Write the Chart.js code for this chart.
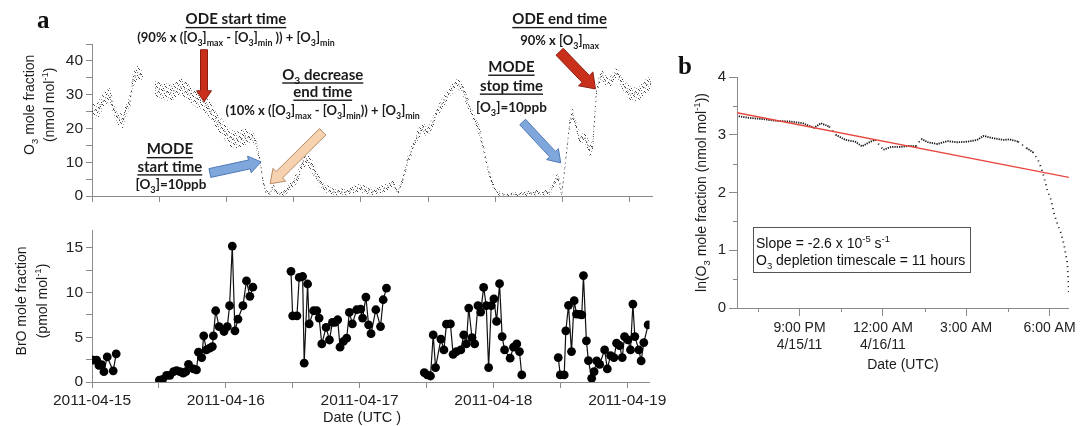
<!DOCTYPE html>
<html>
<head>
<meta charset="utf-8">
<script src="https://cdn.jsdelivr.net/npm/chart.js@4.4.1/dist/chart.umd.min.js"></script>
<style>
  body { margin: 0; background: #fff; width: 1080px; height: 426px; overflow: hidden; position: relative; }
  canvas { position: absolute; }
</style>
</head>
<body>
<canvas id="o3Chart" width="670" height="210" style="left:0;top:0"></canvas>
<canvas id="broChart" width="670" height="216" style="left:0;top:210px"></canvas>
<canvas id="lnChart" width="410" height="426" style="left:670px;top:0"></canvas>
<script>
// hours after 2011-04-15 00:00 UTC

// O3 (nmol/mol), with half-width of the scatter band
var o3Hours = [0, 1.07, 2.32, 3.21, 3.75, 4.64, 5.53, 6.07, 6.78, 7.32, 8.21, 8.74, 9.1, 9.5, 9.99, 10.6,
  11.24, 12.1, 13.03, 14.1, 15.0, 15.88, 17.13, 18.38, 19.81, 21.23, 22.48, 23.73, 24.8, 26.05, 27.3,
  28.73, 29.26, 29.98, 30.51, 31.05, 31.76, 32.3, 33.19, 34.44, 35.87, 36.76, 37.65, 38.37, 39.26, 40.15,
  41.22, 43.0, 45.5, 47.82, 50.14, 52.64, 53.71, 54.6, 55.5, 56.39, 57.1, 57.99, 59.06, 59.78, 60.67,
  61.56, 62.63, 63.88, 65.13, 66.02, 66.92, 67.99, 69.23, 70.1, 70.9, 71.6, 72.3, 73.3, 76.4, 79.4,
  81.7, 83.2, 83.9, 84.8, 85.3, 85.8, 86.5, 87.1, 88.0, 88.9, 89.4, 90.1, 91.0, 91.5, 92.4,
  93.7, 94.6, 95.5, 96.5, 97.8, 99.0, 99.9];
var o3Values = [25, 25.5, 29, 30, 26.4, 23, 22, 26, 28, 34.4, 36.7, 35.8, 36, null, 32, null,
  32, 31.5, 31, 30.5, 31.5, 32.3, 31, 29, 28, 25, 22, 19, 17, 16.6, 17.5,
  17.5, 15.7, 10.7, 4.7, 1, 0.5, 2.7, 0.5, 1, 3.9, 5.7, 10, 10.7, 9, 5.7,
  2.7, 1.2, 1.2, 2.4, 1.2, 2.4, 3.9, 0.8, 4.7, 10.7, 13.6, 17.5, 20.4, 18.7, 21,
  24.6, 27.6, 30.8, 33.5, 32.3, 28.4, 24, 19, 12.5, 7, 3, 1.2, 0.3, 0.5, 1,
  1, 5.7, 0.8, 13.6, 21.6, 24.6, 20.4, 16.6, 17.5, 13.6, 14.5, 31.4, 36.4, 34.4, 33.5,
  36.7, 33.5, 31.4, 30, 30.5, 32.9, 33.5];
var o3Spread = [2, 2.5, 2, 2, 2, 2, 2, 2, 2, 2, 2, 2, 1.5, null, 0.8, null,
  2.5, 2.5, 2.5, 2.5, 2.5, 2.5, 2.5, 2.5, 2.5, 2.5, 2.5, 2.5, 2.5, 2.5, 2.5,
  1.5, 1.2, 1, 1, 0.8, 0.5, 1, 0.5, 0.8, 1.5, 1.5, 2, 2, 2, 1.5,
  1.2, 1, 1, 1.2, 1, 1.2, 1, 0.7, 1, 1.2, 1.5, 1.5, 1.5, 1.5, 1.5,
  1.5, 1.5, 1.5, 1.5, 1.5, 1.5, 1.5, 1.5, 1.2, 1, 1, 0.8, 0.5, 0.6, 0.8,
  0.8, 1.5, 1, 1, 1.5, 1.5, 1.5, 1.5, 1.5, 2, 2, 1.5, 1.5, 1.5, 1.5,
  1.5, 2, 2, 2, 2, 2, 2];

// BrO (pmol/mol), null = no measurement
var broHours = [0.23, 0.84, 1.25, 1.73, 2.14, 2.73, 3.8, 4.34, 8,
  12.08, 12.67, 13.38, 13.97, 14.63, 15.17, 15.76, 16.36, 16.83, 17.31, 18.2, 18.74, 19.09, 19.68, 20.04,
  20.52, 21.11, 21.59, 21.77, 22.18, 22.79, 23.68, 24.27, 24.68, 25.16, 25.64, 26.18, 27.07, 27.71, 28.32, 28.85, 32,
  35.69, 35.99, 36.76, 37.17, 37.78, 38.06, 38.67, 38.95, 39.74, 40.33, 40.74, 41.22, 41.99, 42.59, 43.13, 43.59,
  44.07, 44.49, 45.09, 45.68, 46.16, 46.7, 47.47, 48.18, 48.54, 49.13, 49.61, 50.05, 50.91, 51.75, 52.23, 52.82, 56,
  59.6, 60.13, 60.72, 61.2, 61.62, 62.58, 63.12, 63.58, 64.29, 64.77, 65.36, 66.15, 66.68, 67.15, 67.57, 68.16,
  68.64, 69.23, 69.72, 70.25, 70.72, 71.14, 71.61, 72.09, 72.57, 73.1, 73.57, 74.0, 75.0, 75.6, 76.19, 76.67, 77.09, 80,
  83.63, 83.99, 84.7, 84.99, 85.47, 86.01, 86.49, 86.9, 87.49, 87.85, 88.15, 88.68, 89.04, 89.63, 90.06, 90.52,
  91.06, 91.95, 92.43, 93.02, 93.63, 94.09, 94.63, 95.11, 95.52, 96.13, 96.59, 97.02, 97.37, 98.09, 98.5, 98.98, 99.75];
var broValues = [2.45, 2.45, 1.85, 1.95, 1.15, 2.8, 1.25, 3.15, null,
  0.22, 0.3, 0.75, 0.75, 1.16, 1.27, 1.16, 1.0, 1.16, 1.98, 1.46, 1.35, 3.33, 2.73, 5.16,
  3.59, 3.78, 3.96, 5.16, 7.97, 6.2, 5.65, 6.2, 8.53, 15.2, 5.72, 7.03, 8.53, 11.3, 9.58, 10.6, null,
  12.38, 7.4, 7.4, 11.7, 11.8, 2.1, 10.96, 6.5, 7.97, 7.97, 7.15, 4.26, 6.1, 4.7, 6.66, 6.66,
  6.96, 3.9, 4.53, 4.9, 7.78, 6.5, 8.08, 8.15, 7.15, 9.5, 6.4, 5.4, 8.08, 6.2, 9.2, 10.5, null,
  1.05, 0.79, 0.67, 5.27, 1.61, 4.8, 3.59, 6.47, 6.5, 3.1, 3.4, 3.59, 5.27, 4.26, 8.27, 4.97,
  4.26, 8.53, 7.82, 10.58, 8.53, 1.6, 8.53, 9.3, 6.77, 11.0, 5.08, 3.59, 2.66, 3.9, 4.26, 3.4, 0.79, null,
  2.73, 0.79, 0.79, 5.72, 8.57, 3.4, 9.09, 7.6, 7.56, 7.5, 11.9, 4.6, 2.4, 0.41, 1.16, 2.36,
  1.98, 3.59, 1.46, 2.95, 2.73, 4.34, 4.08, 2.73, 5.08, 4.71, 3.59, 8.72, 5.08, 3.59, 2.36, 4.41, 6.4];

var dayTicks = [0, 24, 48, 72, 96];
var dayLabels = ['2011-04-15', '2011-04-16', '2011-04-17', '2011-04-18', '2011-04-19'];

// panel b: ln(O3) during the depletion event
var lnHours = [18.81, 19.23, 19.7, 20.17, 20.65, 21.12, 21.53, 21.77, 22.07, 22.3, 22.66, 23.0, 23.25, 23.55,
  23.72, 24.02, 24.31, 24.67, 24.97, 25.2, 25.38, 25.62, 25.97, 26.33, 26.68, 27.04, 27.39, 27.63, 27.98,
  28.34, 28.57, 28.87, 29.17, 29.4, 29.58, 29.7, 29.81, 29.93, 30.05, 30.17, 30.29, 30.41, 30.52, 30.64, 30.7];
var lnValues = [3.32, 3.29, 3.27, 3.24, 3.23, 3.2, 3.12, 3.2, 3.14, 3.0, 2.91, 2.88, 2.8, 2.88,
  2.91, 2.74, 2.79, 2.79, 2.81, 2.8, 2.93, 2.87, 2.84, 2.89, 2.87, 2.88, 2.91, 2.98, 2.94,
  2.91, 2.92, 2.88, 2.77, 2.7, 2.57, 2.43, 2.25, 2.02, 1.88, 1.62, 1.45, 1.3, 1.1, 0.78, 0.24];
var lnTickHours = [21, 24, 27, 30];
var lnTickLabels = [['9:00 PM', '4/15/11'], ['12:00 AM', '4/16/11'], '3:00 AM', '6:00 AM'];
var lnMinorHours = [19.5, 22.5, 25.5, 28.5];
var lnMinorValues = [0.5, 1.5, 2.5, 3.5];
var fitStart = 3.38;     // ln value at the left edge
var fitSlope = -2.6e-5;  // s^-1

Chart.defaults.font.family = "'Liberation Sans', Arial, sans-serif";
Chart.defaults.color = '#222';

var AXIS = '#8a8a8a';

// --- text with _{sub} and ^{sup} pieces
function parseRich(str) {
  var parts = [];
  str.split(/(_\{[^}]*\}|\^\{[^}]*\})/).forEach(function (s) {
    if (!s) return;
    if (s[0] === '_' && s[1] === '{') parts.push([s.slice(2, -1), 'sub']);
    else if (s[0] === '^' && s[1] === '{') parts.push([s.slice(2, -1), 'sup']);
    else parts.push([s, '']);
  });
  return parts;
}

function richText(ctx, str, x, y, o) {
  var parts = parseRich(str);
  var size = o.size, fam = o.family || "'Liberation Sans', Arial, sans-serif", wt = o.bold ? 'bold' : 'normal';
  function font(m) { return wt + ' ' + (m ? size * 0.68 : size) + 'px ' + fam; }
  ctx.save();
  ctx.translate(x, y);
  if (o.angle) ctx.rotate(o.angle);
  var w = 0;
  parts.forEach(function (p) { ctx.font = font(p[1]); w += ctx.measureText(p[0]).width; });
  var cx = o.align === 'left' ? 0 : -w / 2, x0 = cx;
  ctx.fillStyle = o.color || '#1a1a1a';
  ctx.textBaseline = 'alphabetic';
  ctx.textAlign = 'left';
  parts.forEach(function (p) {
    ctx.font = font(p[1]);
    var dy = p[1] === 'sub' ? size * 0.3 : (p[1] === 'sup' ? -size * 0.42 : 0);
    ctx.fillText(p[0], cx, dy);
    cx += ctx.measureText(p[0]).width;
  });
  if (o.underline) ctx.fillRect(x0, 2.5, w, 1.4);
  ctx.restore();
}

function blockArrow(ctx, x0, y0, x1, y1, sw, hw, hl, fill, stroke) {
  var dx = x1 - x0, dy = y1 - y0, L = Math.hypot(dx, dy);
  var ux = dx / L, uy = dy / L, nx = -uy, ny = ux;
  var bx = x1 - ux * hl, by = y1 - uy * hl;
  ctx.save();
  ctx.beginPath();
  ctx.moveTo(x0 + nx * sw / 2, y0 + ny * sw / 2);
  ctx.lineTo(bx + nx * sw / 2, by + ny * sw / 2);
  ctx.lineTo(bx + nx * hw / 2, by + ny * hw / 2);
  ctx.lineTo(x1, y1);
  ctx.lineTo(bx - nx * hw / 2, by - ny * hw / 2);
  ctx.lineTo(bx - nx * sw / 2, by - ny * sw / 2);
  ctx.lineTo(x0 - nx * sw / 2, y0 - ny * sw / 2);
  ctx.closePath();
  ctx.fillStyle = fill;
  ctx.fill();
  ctx.lineWidth = 1;
  ctx.strokeStyle = stroke;
  ctx.stroke();
  ctx.restore();
}

function axisOpts(extra) {
  var o = {
    type: 'linear',
    grid: { display: true, drawOnChartArea: false, drawTicks: true, tickLength: 6, color: AXIS },
    border: { display: true, color: AXIS, width: 1 },
    ticks: { includeBounds: false, autoSkip: false, maxRotation: 0, font: { size: 15.5 }, color: '#222', padding: 3 }
  };
  for (var k in extra) {
    if (k === 'ticks') Object.assign(o.ticks, extra.ticks);
    else o[k] = extra[k];
  }
  return o;
}

// ---------------- panel a, top: O3 ----------------
var o3Ctx = document.getElementById('o3Chart').getContext('2d');
// grain used to fill the O3 scatter band
var dotCanvas = document.createElement('canvas');
dotCanvas.width = 9; dotCanvas.height = 9;
var dg = dotCanvas.getContext('2d');
dg.fillStyle = 'rgba(50,50,50,0.9)';
[[0, 0], [5, 1], [2, 3], [7, 4], [4, 6], [1, 7], [8, 8], [6, 2], [3, 5]].forEach(function (p) {
  dg.fillRect(p[0], p[1], 1, 1);
});
dg.fillStyle = 'rgba(120,120,120,0.7)';
[[2, 0], [8, 3], [0, 5], [6, 7], [4, 2]].forEach(function (p) { dg.fillRect(p[0], p[1], 1, 1); });
var stipple = o3Ctx.createPattern(dotCanvas, 'repeat');

function o3Points(sign) {
  return o3Hours.map(function (h, i) {
    var v = o3Values[i];
    return { x: h, y: v === null ? null : v + sign * o3Spread[i] };
  });
}

// annotation texts and arrows, positioned in data units (hours, nmol/mol)
var o3Notes = [
  { h: 25.7, v: 50.8, text: 'ODE start time', size: 15, underline: true },
  { h: 25.7, v: 45.6, text: '(90% x ([O_{3}]_{max} - [O_{3}]_{min} )) + [O_{3}]_{min}', size: 13 },
  { h: 41.2, v: 34.4, text: 'O_{3} decrease', size: 15, underline: true },
  { h: 41.2, v: 29.3, text: 'end time', size: 15, underline: true },
  { h: 41.2, v: 24.0, text: '(10% x ([O_{3}]_{max} - [O_{3}]_{min})) + [O_{3}]_{min}', size: 13 },
  { h: 13.9, v: 12.3, text: 'MODE', size: 15, underline: true },
  { h: 13.9, v: 7.2, text: 'start time', size: 15, underline: true },
  { h: 14.1, v: 2.2, text: '[O_{3}]=10ppb', size: 13.5 },
  { h: 74.9, v: 36.7, text: 'MODE', size: 15, underline: true },
  { h: 74.9, v: 31.1, text: 'stop time', size: 15, underline: true },
  { h: 74.9, v: 24.9, text: '[O_{3}]=10ppb', size: 13.5 },
  { h: 83.5, v: 50.8, text: 'ODE end time', size: 15, underline: true },
  { h: 83.5, v: 44.8, text: '90% x [O_{3}]_{max}', size: 13 }
];
var o3Arrows = [
  { from: [20.0, 43.3], to: [20.0, 27.9], sw: 7, hw: 15, hl: 11, fill: '#c9301c', stroke: '#8c1e10' },
  { from: [41.2, 19.0], to: [31.8, 3.6], sw: 9, hw: 18, hl: 13, fill: '#f6d2b0', stroke: '#b78a62' },
  { from: [21.05, 6.8], to: [30.2, 10.1], sw: 9, hw: 17, hl: 12, fill: '#7fa7dc', stroke: '#4f78b6' },
  { from: [76.9, 21.9], to: [83.7, 9.8], sw: 8, hw: 16, hl: 12, fill: '#7fa7dc', stroke: '#4f78b6' },
  { from: [83.5, 42.7], to: [89.9, 31.7], sw: 10, hw: 20, hl: 14, fill: '#c9301c', stroke: '#8c1e10' }
];

var o3Decor = {
  id: 'o3Decor',
  afterDraw: function (chart) {
    var ctx = chart.ctx, xs = chart.scales.x, ys = chart.scales.y;
    o3Arrows.forEach(function (a) {
      blockArrow(ctx, xs.getPixelForValue(a.from[0]), ys.getPixelForValue(a.from[1]),
        xs.getPixelForValue(a.to[0]), ys.getPixelForValue(a.to[1]), a.sw, a.hw, a.hl, a.fill, a.stroke);
    });
    o3Notes.forEach(function (n) {
      richText(ctx, n.text, xs.getPixelForValue(n.h), ys.getPixelForValue(n.v),
        { size: n.size, bold: true, underline: n.underline, family: "Lato, 'Open Sans', sans-serif" });
    });
    var mid = ys.getPixelForValue(27);
    richText(ctx, 'O_{3} mole fraction', 34, mid, { size: 14, angle: -Math.PI / 2 });
    richText(ctx, '(nmol mol^{-1})', 54, mid, { size: 14, angle: -Math.PI / 2 });
    ctx.save();
    ctx.font = "bold 25px 'Liberation Serif', serif";
    ctx.fillStyle = '#111';
    ctx.fillText('a', 37, 28);
    ctx.restore();
  }
};

new Chart(o3Ctx, {
  type: 'line',
  data: {
    datasets: [
      { data: o3Points(-1), borderWidth: 0, pointRadius: 0, fill: false, spanGaps: false },
      { data: o3Points(1), borderWidth: 0, pointRadius: 0, fill: '-1', backgroundColor: stipple, spanGaps: false },
      {
        data: o3Points(0), borderColor: '#444', borderWidth: 1, pointRadius: 0, spanGaps: false,
        segment: { borderDash: function (c) { return Math.abs(c.p1.parsed.y - c.p0.parsed.y) > 4 ? [1, 4] : [1, 3]; } }
      }
    ]
  },
  options: {
    responsive: false, animation: false, devicePixelRatio: 1,
    layout: { padding: { top: 44, right: 18, left: 0, bottom: 0 } },
    plugins: { legend: { display: false }, tooltip: { enabled: false } },
    scales: {
      x: axisOpts({ min: 0, max: 100, ticks: { stepSize: 12, callback: function () { return ''; } },
        afterFit: function (s) { s.height = 14; } }),
      y: axisOpts({ min: 0, max: 45, ticks: { stepSize: 5, callback: function (v) { return v % 10 === 0 ? v : ''; } },
        afterFit: function (s) { s.width = 92; } })
    }
  },
  plugins: [o3Decor]
});

// ---------------- panel a, bottom: BrO ----------------
var broDecor = {
  id: 'broDecor',
  afterDraw: function (chart) {
    var ctx = chart.ctx, ca = chart.chartArea;
    var mid = (ca.top + ca.bottom) / 2 - 5;
    richText(ctx, 'BrO mole fraction', 26, mid, { size: 14, angle: -Math.PI / 2 });
    richText(ctx, '(pmol mol^{-1})', 47, mid, { size: 14, angle: -Math.PI / 2 });
    richText(ctx, 'Date (UTC )', 362, 212, { size: 14.5 });
  }
};

new Chart(document.getElementById('broChart'), {
  type: 'line',
  data: {
    datasets: [{
      data: broHours.map(function (h, i) { return { x: h, y: broValues[i] }; }),
      borderColor: '#111', borderWidth: 1.2, spanGaps: false,
      pointRadius: 4.4, pointBackgroundColor: '#000', pointBorderWidth: 0
    }]
  },
  options: {
    responsive: false, animation: false, devicePixelRatio: 1,
    layout: { padding: { top: 20, right: 18, left: 0, bottom: 0 } },
    plugins: { legend: { display: false }, tooltip: { enabled: false } },
    scales: {
      x: axisOpts({ min: 0, max: 100, ticks: { stepSize: 12, callback: function (v) {
          var i = dayTicks.indexOf(v); return i < 0 ? '' : dayLabels[i]; } },
        afterFit: function (s) { s.height = 44; } }),
      y: axisOpts({ min: 0, max: 17, ticks: { stepSize: 2.5, callback: function (v) { return v % 5 === 0 ? v : ''; } },
        afterFit: function (s) { s.width = 92; } })
    }
  },
  plugins: [broDecor]
});

// ---------------- panel b: ln(O3) with linear fit ----------------
var lnDecor = {
  id: 'lnDecor',
  afterDraw: function (chart) {
    var ctx = chart.ctx, xs = chart.scales.x, ys = chart.scales.y, ca = chart.chartArea;
    ctx.save();
    ctx.strokeStyle = AXIS;
    ctx.lineWidth = 1;
    ctx.beginPath();
    lnMinorHours.forEach(function (h) {
      var px = Math.round(xs.getPixelForValue(h)) + 0.5;
      ctx.moveTo(px, ca.bottom); ctx.lineTo(px, ca.bottom + 4);
    });
    lnMinorValues.forEach(function (v) {
      var py = Math.round(ys.getPixelForValue(v)) + 0.5;
      ctx.moveTo(ca.left, py); ctx.lineTo(ca.left - 4, py);
    });
    ctx.stroke();

    // fit statistics box
    var bx = Math.round(xs.getPixelForValue(19.33)) + 0.5, by = Math.round(ys.getPixelForValue(1.4)) + 0.5;
    ctx.strokeStyle = '#555';
    ctx.strokeRect(bx, by, 217, 45);
    ctx.restore();
    richText(ctx, 'Slope = -2.6 x 10^{-5} s^{-1}', bx + 2.5, by + 20.5, { size: 14, align: 'left', color: '#111' });
    richText(ctx, 'O_{3} depletion timescale = 11 hours', bx + 2.5, by + 37.5, { size: 14, align: 'left', color: '#111' });

    richText(ctx, 'ln(O_{3} mole fraction (nmol mol^{-1}))', 36, (ca.top + ca.bottom) / 2, { size: 14, angle: -Math.PI / 2 });
    richText(ctx, 'Date (UTC)', (ca.left + ca.right) / 2, 369, { size: 14 });
    ctx.save();
    ctx.font = "bold 25px 'Liberation Serif', serif";
    ctx.fillStyle = '#111';
    ctx.fillText('b', 8, 74);
    ctx.restore();
  }
};

var lnMin = 18.75, lnMax = 30.7;
new Chart(document.getElementById('lnChart'), {
  type: 'line',
  data: {
    datasets: [
      {
        data: [{ x: lnMin, y: fitStart }, { x: lnMax, y: fitStart + fitSlope * 3600 * (lnMax - lnMin) }],
        borderColor: '#e8453c', borderWidth: 1.4, pointRadius: 0
      },
      {
        data: lnHours.map(function (h, i) { return { x: h, y: lnValues[i] }; }),
        borderColor: '#1a1a1a', borderWidth: 1.8, pointRadius: 0,
        segment: { borderDash: function (c) { return Math.abs(c.p1.parsed.y - c.p0.parsed.y) > 0.09 ? [1, 4] : [1.3, 1]; } }
      }
    ]
  },
  options: {
    responsive: false, animation: false, devicePixelRatio: 1,
    layout: { padding: { top: 77, right: 7, left: 0, bottom: 0 } },
    plugins: { legend: { display: false }, tooltip: { enabled: false } },
    scales: {
      x: axisOpts({ min: lnMin, max: lnMax,
        grid: { display: true, drawOnChartArea: false, drawTicks: true, tickLength: 8, color: AXIS },
        ticks: { stepSize: 3, font: { size: 14 }, padding: 4, callback: function (v) {
          var i = lnTickHours.indexOf(v); return i < 0 ? '' : lnTickLabels[i]; } },
        afterFit: function (s) { s.height = 118; } }),
      y: axisOpts({ min: 0, max: 4,
        grid: { display: true, drawOnChartArea: false, drawTicks: true, tickLength: 8, color: AXIS },
        ticks: { stepSize: 1, font: { size: 15 }, padding: 3 },
        afterFit: function (s) { s.width = 67; } })
    }
  },
  plugins: [lnDecor]
});
</script>
</body>
</html>
